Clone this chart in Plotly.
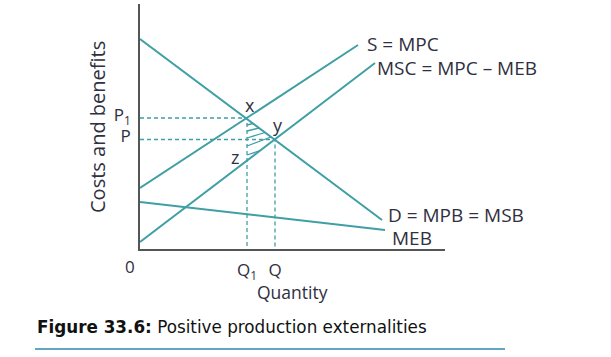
import plotly.graph_objects as go

# Curve endpoints (quantity, cost/benefit)
D_x = [0, 24.2];   D_y = [21.0, 2.9]
S_x = [0, 21.8];   S_y = [6.1, 20.4]
MSC_x = [0, 23.5]; MSC_y = [0.7, 18.6]
MEB_x = [0, 24.5]; MEB_y = [4.7, 1.9]

# Key points
pt_names = ["x", "y", "z"]
pt_x = [10.7, 13.5, 10.7]
pt_y = [13.1, 10.95, 8.85]

# Hatch strokes in the welfare-gain triangle
hatch_x0 = [10.7, 10.7, 10.7, 10.7, 10.7]
hatch_y0 = [12.4, 11.8, 11.1, 10.3, 9.4]
hatch_x1 = [11.3, 11.9, 12.5, 13.1, 12.0]
hatch_y1 = [12.55, 12.1, 11.65, 11.2, 9.84]

# Tick labels
x_tickvals = [10.7, 13.5]
x_ticktext = ["Q<sub>1</sub>", "Q"]
y_tickvals = [13.1, 10.95]
y_ticktext = ["P<sub>1</sub>", "P"]

# Curve labels
curve_labels = ["S = MPC", "MSC = MPC \u2013 MEB", "D = MPB = MSB", "MEB"]
y_title = "Costs and benefits"
x_title = "Quantity"

TEAL = "#3f9fa4"
TXT = "#2f3040"
FONT = "Open Sans"

fig = go.Figure()

# dashed guides
dash = dict(color=TEAL, width=1.3, dash="4px,3px")
fig.add_trace(go.Scatter(x=[0, pt_x[0], pt_x[0]], y=[pt_y[0], pt_y[0], 0], mode="lines", line=dash, hoverinfo="skip"))
fig.add_trace(go.Scatter(x=[0, pt_x[1], pt_x[1]], y=[pt_y[1], pt_y[1], 0], mode="lines", line=dash, hoverinfo="skip"))

# hatch
for i in range(len(hatch_x0)):
    fig.add_trace(go.Scatter(x=[hatch_x0[i], hatch_x1[i]], y=[hatch_y0[i], hatch_y1[i]],
                             mode="lines", line=dict(color=TEAL, width=1.3), hoverinfo="skip"))

for xs, ys in [(D_x, D_y), (S_x, S_y), (MSC_x, MSC_y), (MEB_x, MEB_y)]:
    fig.add_trace(go.Scatter(x=xs, y=ys, mode="lines", line=dict(color=TEAL, width=2)))

ann = []
# curve labels at line ends
label_pos = [(S_x[1], S_y[1]), (MSC_x[1], MSC_y[1]), (D_x[1], D_y[1]), (MEB_x[1], MEB_y[1])]
label_shift = [(7, 1), (0, -5), (4, 5), (5, -8)]
for txt, (lx, ly), (dx, dy) in zip(curve_labels, label_pos, label_shift):
    ann.append(dict(x=lx, y=ly, text=txt, xref="x", yref="y", showarrow=False,
                    xanchor="left", yanchor="middle", xshift=dx, yshift=dy,
                    font=dict(family=FONT, size=19, color=TXT)))
# point labels
shifts = [(3, 13), (3, 15), (-12, 4)]
for n, px, py, (dx, dy) in zip(pt_names, pt_x, pt_y, shifts):
    ann.append(dict(x=px, y=py, text=n, xref="x", yref="y", showarrow=False,
                    xshift=dx, yshift=dy, font=dict(family=FONT, size=18, color=TXT)))
# origin label
ann.append(dict(x=0, y=0, text="0", xref="x", yref="y", showarrow=False,
                xshift=-10, yshift=-17, font=dict(family=FONT, size=17, color=TXT)))
# axis titles (paper coords relative to plot area: x 140..445, y 4..249 px)
ann.append(dict(x=(97 - 140) / 305, y=(249 - 127) / 245, xref="paper", yref="paper", showarrow=False,
                text=y_title, textangle=-90, xanchor="center", yanchor="middle",
                font=dict(family=FONT, size=20, color=TXT)))
ann.append(dict(x=(292 - 140) / 305, y=(249 - 292) / 245, xref="paper", yref="paper", showarrow=False,
                text=x_title, xanchor="center", yanchor="middle",
                font=dict(family=FONT, size=17.5, color=TXT)))
# caption
ann.append(dict(x=(35 - 140) / 305, y=(249 - 327) / 245, xref="paper", yref="paper", showarrow=False,
                xanchor="left", yanchor="middle",
                text="<b>Figure 33.6:</b> Positive production externalities",
                font=dict(family="DejaVu Sans", size=16.8, color="#111111")))

fig.update_layout(
    width=611, height=357,
    margin=dict(l=140, r=166, t=4, b=108),
    paper_bgcolor="white", plot_bgcolor="white",
    showlegend=False,
    annotations=ann,
    shapes=[dict(type="line", xref="paper", yref="paper",
                 x0=(35 - 140) / 305, x1=(505 - 140) / 305,
                 y0=(249 - 349) / 245, y1=(249 - 349) / 245,
                 line=dict(color="#2f8aa8", width=1.5))],
)
fig.update_xaxes(range=[0, 30.5], showline=True, linecolor="#555555", linewidth=1.5,
                 showgrid=False, zeroline=False, tickvals=x_tickvals, ticktext=x_ticktext,
                 ticks="", ticklabelstandoff=5, automargin=False,
                 tickfont=dict(family=FONT, size=17, color=TXT))
fig.update_yaxes(range=[0, 24.5], showline=True, linecolor="#555555", linewidth=1.5,
                 showgrid=False, zeroline=False, tickvals=y_tickvals, ticktext=y_ticktext,
                 ticks="", ticklabelstandoff=4, ticklabelshift=-3, automargin=False,
                 tickfont=dict(family=FONT, size=17, color=TXT))

fig.write_html("out.html", config={"displayModeBar": False},
               post_script="document.body.style.margin='0px';")
